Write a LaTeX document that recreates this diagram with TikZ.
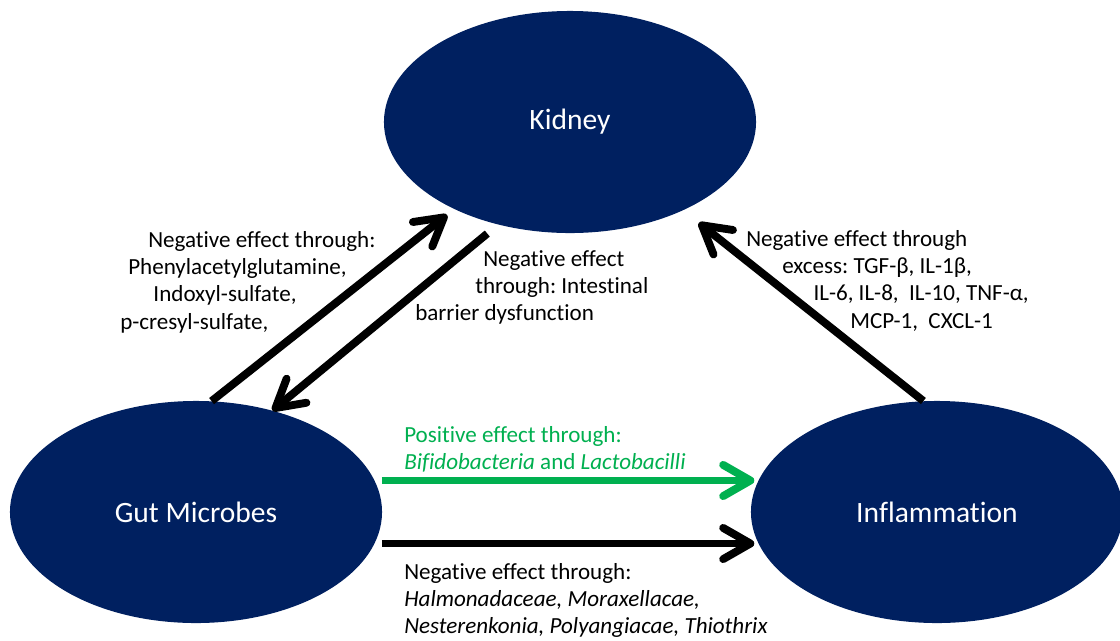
\documentclass[tikz,border=0pt]{standalone}
\usepackage{fontspec}
\setmainfont{Carlito}[Ligatures=NoCommon]
\usetikzlibrary{arrows.meta, shapes.geometric, positioning}
\definecolor{organNavy}{HTML}{002060}
\definecolor{effGreen}{HTML}{00B050}
\frenchspacing

\begin{document}
\begin{tikzpicture}[x=0.025cm, y=-0.025cm,
    organ/.style={ellipse, fill=organNavy, draw=none, minimum width=9.3cm,
        minimum height=5.55cm, inner sep=0pt, text=white,
        font=\fontsize{21}{25}\selectfont},
    effect/.style={line width=5.6pt,
        -{Straight Barb[length=0.68cm, width=0.78cm, round]}},
    note/.style={align=left, inner sep=0pt, anchor=north west,
        font=\fontsize{16.4}{19.4}\selectfont}]

\useasboundingbox (0,0) rectangle (1120,640);
\fill[white] (0,0) rectangle (1120,640);

% 三個橢圓
\node[organ] (kidney) at (570,122) {Kidney};
\node[organ] (gut) at (196,512) {Gut Microbes};
\node[organ] (infl) at (937,512) {Inflammation};

% 箭頭
\draw[effect, shorten >=0.23cm] (gut.82) -- (kidney.217);
\draw[effect, shorten <=0.35cm] (kidney.235) -- (gut.53);
\draw[effect, shorten >=0.5cm] (infl.97) -- (kidney.322);
\draw[effect, effGreen, shorten <=0.18cm, shorten >=0.1cm] (gut.10) -- (infl.170);
\draw[effect, shorten <=0.18cm, shorten >=0.1cm] (gut.-10) -- (infl.190);

% 文字說明
\node[note] (gutKidneyTxt) at (120,231) {\hspace*{0.7cm}Negative effect through:\\
    \hspace*{0.2cm}Phenylacetylglutamine,\\
    \hspace*{0.83cm}Indoxyl-sulfate,\\
    p-cresyl-sulfate,};
\node[note] (kidneyGutTxt) at (415,250) {\hspace*{1.7cm}Negative effect\\
    \hspace*{1.5cm}through: Intestinal\\
    barrier dysfunction};
\node[note] (inflKidneyTxt) at (746,230) {Negative effect through\\
    \hspace*{0.9cm}excess: TGF-β, IL-1β,\\
    \hspace*{1.68cm}IL-6, IL-8,\ \ IL-10, TNF-α,\\
    \hspace*{2.6cm}MCP-1,\ \ CXCL-1};
\node[note, text=effGreen] (posTxt) at (404,426) {Positive effect through:\\
    \textit{Bifidobacteria} and \textit{Lactobacilli}};
\node[note] (negTxt) at (404,563) {Negative effect through:\\
    \textit{Halmonadaceae, Moraxellacae,}\\
    \textit{Nesterenkonia, Polyangiacae, Thiothrix}};
\end{tikzpicture}
\end{document}
